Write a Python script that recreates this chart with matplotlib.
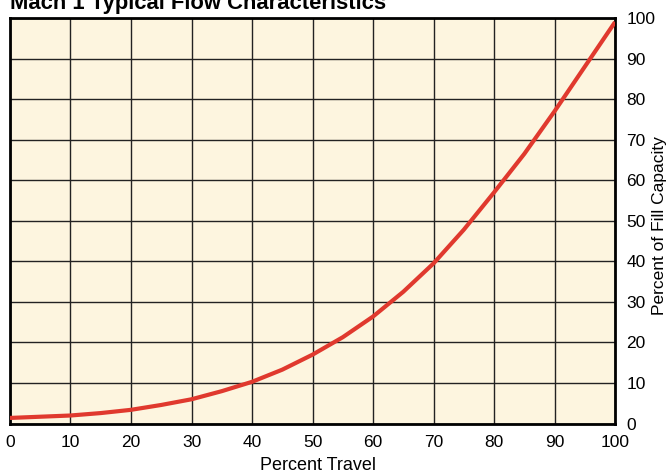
import matplotlib.pyplot as plt

travel = [0, 5, 10, 15, 20, 25, 30, 35, 40, 45, 50, 55, 60, 65, 70, 75, 80, 85, 90, 95, 100]
capacity = [1.4, 1.7, 2.0, 2.6, 3.4, 4.6, 6.0, 8.0, 10.3, 13.3, 17.0, 21.3, 26.4, 32.5,
            39.5, 47.8, 57.0, 66.5, 77.0, 88.0, 99.0]
ticks = [0, 10, 20, 30, 40, 50, 60, 70, 80, 90, 100]

plt.rcParams['font.family'] = ['Liberation Sans', 'DejaVu Sans']

fig = plt.figure(figsize=(6.7, 4.73), dpi=100)
ax = fig.add_axes([0.0149, 0.1044, 0.9031, 0.8576])
ax.set_facecolor('#fdf5df')

ax.plot(travel, capacity, color='#e0392e', lw=3, zorder=3, solid_capstyle='butt')

ax.set_xlim(0, 100)
ax.set_ylim(0, 100)
ax.set_xticks(ticks)
ax.set_yticks(ticks)
ax.grid(True, color='#222222', lw=1)
ax.set_axisbelow(True)
for s in ax.spines.values():
    s.set_linewidth(2)
    s.set_color('black')

ax.yaxis.tick_right()
ax.yaxis.set_label_position('right')
ax.tick_params(axis='both', length=0, labelsize=12.5)
ax.tick_params(axis='x', pad=8)
ax.tick_params(axis='y', pad=8)
ax.set_xlabel('Percent Travel', fontsize=13)
ax.xaxis.set_label_coords(0.509, -0.082)
ax.set_ylabel('Percent of Fill Capacity', fontsize=12.5)
ax.yaxis.set_label_coords(1.061, 0.488)

fig.text(0.0149, 0.981, 'Mach 1 Typical Flow Characteristics', fontsize=15.8,
         fontweight='bold', va='baseline', ha='left')

fig.savefig('out.png', dpi=100)
